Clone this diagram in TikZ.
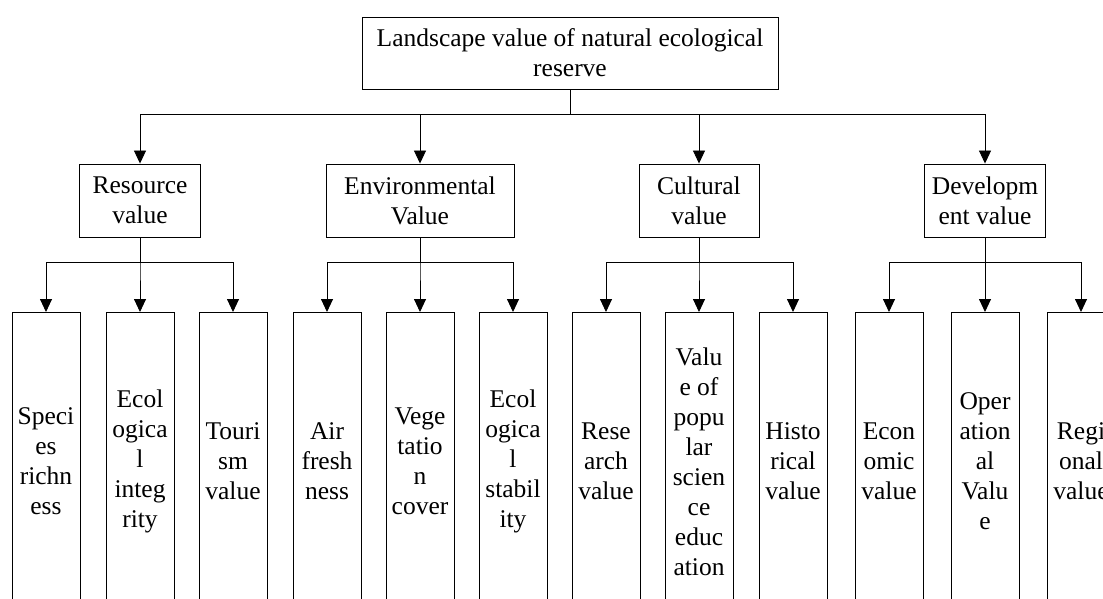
\documentclass[tikz,border=0pt]{standalone}
\usepackage{fontspec}
\setmainfont{Liberation Serif}
\usetikzlibrary{arrows.meta}
\begin{document}
\begin{tikzpicture}[x=1pt,y=-1pt,
  txt/.style={font=\fontsize{25.5}{30}\selectfont, align=center, draw=black, line width=0.9pt, inner sep=0pt},
  topbox/.style={txt, minimum width=416pt, minimum height=72pt},
  midbox/.style={txt, minimum height=73pt},
  leafbox/.style={txt, anchor=north, minimum width=68pt, minimum height=298pt},
  arr/.style={line width=0.9pt, -{Triangle[width=12pt,length=13pt]}},
  conn/.style={line width=0.9pt}]
\useasboundingbox (0,0) rectangle (1103,599);
\clip (0,0) rectangle (1103,599);
\fill[white] (0,0) rectangle (1103,599);

\node[topbox] (top) at (570,53) {Landscape value of natural ecological\\reserve};

\node[midbox, minimum width=121pt] (res) at (140,200.5) {Resource\\value};
\node[midbox, minimum width=188pt] (env) at (420,200.5) {Environmental\\Value};
\node[midbox, minimum width=120pt] (cul) at (699,200.5) {Cultural\\value};
\node[midbox, minimum width=121pt] (dev) at (985,200.5) {Developm\\ent value};

\node[leafbox] (l1) at (46,312) {Speci\\es\\richn\\ess};
\node[leafbox] (l2) at (140,312) {Ecol\\ogica\\l\\integ\\rity};
\node[leafbox] (l3) at (233,312) {Touri\\sm\\value};
\node[leafbox] (l4) at (327,312) {Air\\fresh\\ness};
\node[leafbox] (l5) at (420,312) {Vege\\tatio\\n\\cover};
\node[leafbox] (l6) at (513,312) {Ecol\\ogica\\l\\stabil\\ity};
\node[leafbox] (l7) at (606,312) {Rese\\arch\\value};
\node[leafbox] (l8) at (699,312) {Valu\\e of\\popu\\lar\\scien\\ce\\educ\\ation};
\node[leafbox] (l9) at (793,312) {Histo\\rical\\value};
\node[leafbox] (l10) at (889,312) {Econ\\omic\\value};
\node[leafbox] (l11) at (985,312) {Oper\\ation\\al\\Valu\\e};
\node[leafbox] (l12) at (1081,312) {Regi\\onal\\value};

\foreach \c in {res,env,cul,dev}
  \draw[arr] (top.south) -- ++(0,25) -| (\c.north);

\foreach \p/\a/\b/\c in {res/l1/l2/l3, env/l4/l5/l6, cul/l7/l8/l9, dev/l10/l11/l12}{
  \draw[arr] (\p.south) -- ++(0,25) -| (\a.north);
  \draw[arr] (\p.south) -- ++(0,25) -| (\b.north);
  \draw[arr] (\p.south) -- ++(0,25) -| (\c.north);
}
\end{tikzpicture}
\end{document}
